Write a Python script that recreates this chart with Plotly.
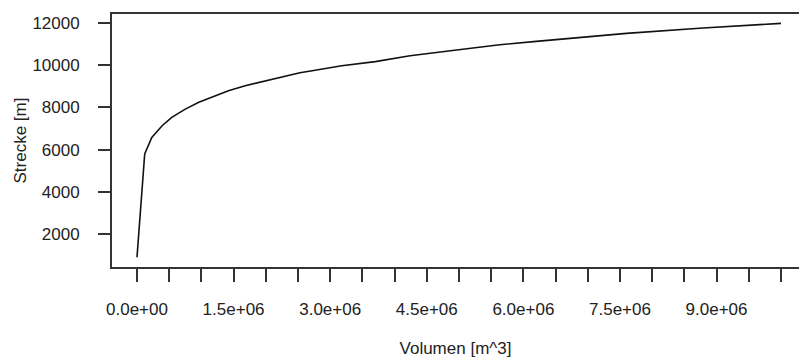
import plotly.graph_objects as go

volumen = [0, 0.12e6, 0.23e6, 0.39e6, 0.54e6, 0.75e6, 0.96e6, 1.17e6, 1.42e6, 1.68e6,
           1.99e6, 2.30e6, 2.53e6, 2.72e6, 3.18e6, 3.7e6, 4.24e6, 4.9e6, 5.6e6, 6.2e6, 6.6e6,
           7.6e6, 8.79e6, 10.0e6]
strecke = [900, 5790, 6580, 7130, 7530, 7920, 8240, 8480, 8790, 9030,
           9265, 9475, 9645, 9740, 9975, 10170, 10450, 10700, 10960, 11130, 11230,
           11510, 11760, 11985]

x_tickvals = [0, 1.5e6, 3.0e6, 4.5e6, 6.0e6, 7.5e6, 9.0e6]
x_ticktext = ["0.0e+00", "1.5e+06", "3.0e+06", "4.5e+06", "6.0e+06", "7.5e+06", "9.0e+06"]
y_tickvals = [2000, 4000, 6000, 8000, 10000, 12000]
y_ticktext = ["2000", "4000", "6000", "8000", "10000", "12000"]

font = dict(family="Liberation Sans, Arial, sans-serif", size=17, color="#222")

fig = go.Figure(go.Scatter(x=volumen, y=strecke, mode="lines",
                           line=dict(color="#111", width=1.6), hoverinfo="skip"))

plot_w = 799 - 112
fig.update_layout(
    width=799, height=360,
    margin=dict(l=112, r=0, t=14, b=93),
    paper_bgcolor="white", plot_bgcolor="white",
    showlegend=False, font=font,
    annotations=[
        dict(text="Strecke [m]", xref="paper", yref="paper", x=(20 - 112) / plot_w, y=0.5,
             xanchor="center", yanchor="middle", textangle=-90, showarrow=False, font=font),
    ],
)
fig.update_xaxes(
    range=[-0.388e6, 10.28e6], showgrid=False, zeroline=False,
    showline=True, linecolor="#333", linewidth=1.8, mirror=True,
    tickvals=x_tickvals, ticktext=x_ticktext,
    ticks="outside", ticklen=13, tickwidth=1.6, tickcolor="#333",
    minor=dict(dtick=5e5, tick0=0, ticks="outside", ticklen=13, tickwidth=1.6, tickcolor="#333", showgrid=False),
    ticklabelstandoff=13,
    title=dict(text="Volumen [m^3]", standoff=24, font=font),
)
fig.update_yaxes(
    range=[436, 12427], showgrid=False, zeroline=False,
    showline=True, linecolor="#333", linewidth=1.8,
    tickvals=y_tickvals, ticktext=y_ticktext,
    ticks="outside", ticklen=12, tickwidth=1.6, tickcolor="#333",
    ticklabelstandoff=15,
)

fig.write_html("out.html")
